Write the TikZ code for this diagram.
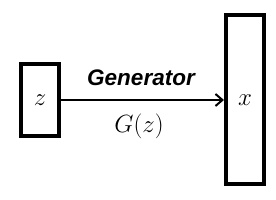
\documentclass[tikz,border=0pt]{standalone}
\usepackage{fontspec}
\setsansfont{Liberation Sans}
\usetikzlibrary{positioning,arrows.meta,calc}
\tikzset{
  block/.style={draw, line width=4pt, fill=white, inner sep=0pt, font=\fontsize{25}{28}\selectfont},
  arrow/.style={-{Straight Barb[length=7pt,width=12pt]}, line width=2pt},
  lbl/.style={font=\fontsize{25}{28}\selectfont}
}
\begin{document}
\begin{tikzpicture}[x=1pt,y=-1pt]
  \useasboundingbox (0,0) rectangle (276,200);
  \node[block, minimum width=38pt, minimum height=72pt] (z) at (40,100) {$z$};
  \node[block, minimum width=38pt, minimum height=169pt] (x) at (245,100) {$x$};
  \draw[arrow] (z.east) -- (x.west);
  \node[font=\fontsize{22.5}{26}\selectfont\sffamily\bfseries\itshape] (gen) at (141,78) {Generator};
  \node[lbl] (gz) at (139,126) {$G(z)$};
\end{tikzpicture}
\end{document}
